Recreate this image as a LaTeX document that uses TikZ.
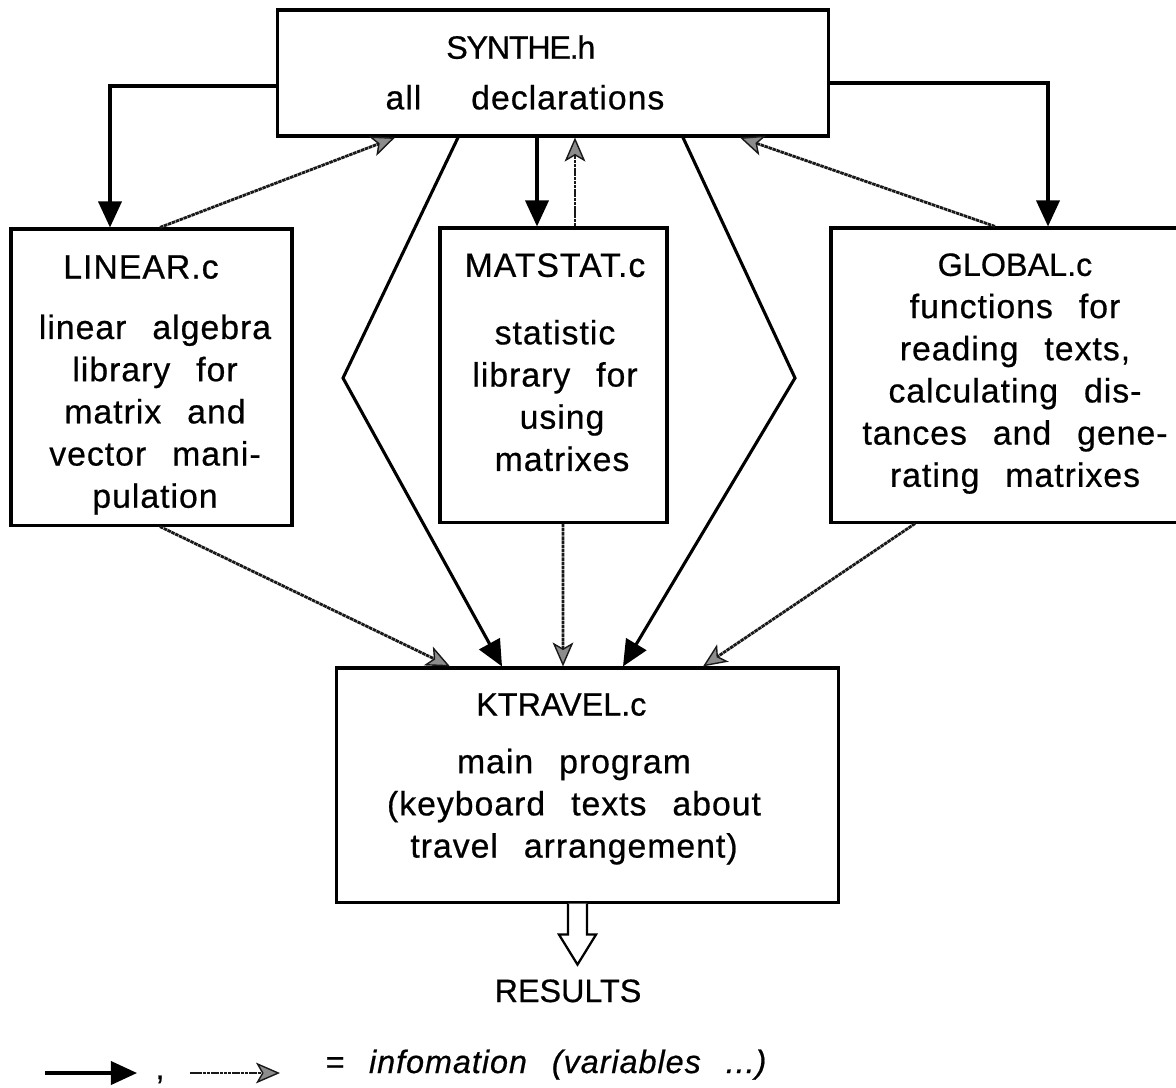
\documentclass[tikz,border=0pt]{standalone}
\usepackage{fontspec}
\setmainfont{Liberation Sans}
\newfontfamily\bodyfont[LetterSpace=3,WordSpace=2.5,FakeBold=0.6]{Liberation Sans}
\newfontfamily\tightfont[LetterSpace=-4,FakeBold=0.6]{Liberation Sans}
\newfontfamily\headfont[FakeBold=0.6]{Liberation Sans}
\usetikzlibrary{arrows.meta,calc}

\newcommand\modtitle[1]{{\headfont\fontsize{23}{30}\selectfont #1}}

\tikzset{
  modbox/.style={draw, line width=2.2pt, inner sep=0pt},
  modtext/.style={align=center, inner sep=0pt, anchor=north,
    font=\bodyfont\fontsize{24}{30}\selectfont},
  solidarr/.style={line width=2.2pt, -{Triangle[length=6.5mm,width=5.8mm]}},
  grayarr/.style={line width=2pt, black!90, dash pattern=on 2.5pt off 0.5pt,
    -{Stealth[length=6mm,width=5.2mm,inset=1.5mm,fill=black!45,line width=1pt]}},
  hollowarr/.style={line width=1.6pt, fill=white, line join=miter},
}

\begin{document}
\begin{tikzpicture}[x=0.025cm,y=-0.025cm]
  \path[use as bounding box] (0,0) rectangle (1176,1087);
  \clip (0,0) rectangle (1176,1087);

  % modules
  \node[modbox, minimum width=13.75cm, minimum height=3.15cm] (synthe) at (553,73) {};
  \node[modbox, minimum width=7.025cm, minimum height=7.4cm] (linear) at (151.5,377) {};
  \node[modbox, minimum width=5.675cm, minimum height=7.35cm] (matstat) at (553.5,375) {};
  \node[modbox, minimum width=9.225cm, minimum height=7.35cm] (global) at (1015.5,375) {};
  \node[modbox, minimum width=12.525cm, minimum height=5.85cm] (ktravel) at (587.5,785) {};

  \node[modtext] (synthetxt) at (525,35)
    {{\tightfont\fontsize{23}{30}\selectfont SYNTHE.h}\hspace*{6pt}\\[6pt] all\hspace{17pt} declarations};
  \node[modtext] (lineartxt) at (155,255)
    {LINEAR.c\hspace*{20pt}\\[13pt] linear algebra\\ library for\\ matrix and\\ vector mani-\\ pulation};
  \node[modtext] (matstattxt) at (555,253)
    {MATSTAT.c\\[18pt] statistic\hspace*{13pt}\\ library for\\ \hspace*{10pt}using\\ \hspace*{10pt}matrixes};
  \node[modtext] (globaltxt) at (1015,253)
    {\modtitle{GLOBAL.c}\\ functions for\\ reading texts,\\ calculating dis-\\ tances and gene-\\ rating matrixes};
  \node[modtext] (ktraveltxt) at (574,693)
    {\modtitle{KTRAVEL.c}\hspace*{18pt}\\[11pt] main program\\ (keyboard texts about\\ travel arrangement)};

  % SYNTHE.h -> modules
  \draw[solidarr] ($(synthe.west)+(0,13)$) -| ($(linear.north)+(-41.5,0)$);
  \draw[solidarr] ($(synthe.east)+(0,10)$) -| ($(global.north)+(32.5,0)$);
  \coordinate (m1) at ($(matstat.north)+(-16.5,0)$);
  \draw[solidarr] (synthe.south -| m1) -- (m1);
  \coordinate (m2) at ($(matstat.north)+(21.5,0)$);
  \draw[grayarr] (m2) -- (synthe.south -| m2);
  \draw[grayarr] ($(linear.north)+(8.5,0)$) -- ($(synthe.south)+(-158,0)$);
  \draw[grayarr] ($(global.north)+(-20.5,0)$) -- ($(synthe.south)+(187,0)$);

  % SYNTHE.h -> KTRAVEL.c
  \coordinate (bendl) at (343,378);
  \coordinate (bendr) at (795,378);
  \draw[solidarr] ($(synthe.south)+(-95,0)$) -- (bendl) -- ($(ktravel.north)+(-85.5,0)$);
  \draw[solidarr] ($(synthe.south)+(130,0)$) -- (bendr) -- ($(ktravel.north)+(35.5,0)$);

  % modules -> KTRAVEL.c
  \draw[grayarr] ($(linear.south)+(8.5,0)$) -- ($(ktravel.north)+(-137.5,0)$);
  \draw[grayarr] ($(matstat.south)+(9.5,0)$) -- ($(ktravel.north)+(-24.5,0)$);
  \draw[grayarr] ($(global.south)+(-100.5,0)$) -- ($(ktravel.north)+(115.5,0)$);

  % results
  \coordinate (out) at ($(ktravel.south)+(-10,0)$);
  \draw[hollowarr] ($(out)+(-9.5,0)$) -- ++(0,31) -- ++(-9,0) -- ($(out)+(0,61)$)
    -- ($(out)+(18.5,31)$) -- ++(-9,0) -- ($(out)+(9.5,0)$);
  \node[anchor=base, inner sep=0pt] (results) at (568,1002) {\modtitle{RESULTS}};

  % legend
  \coordinate (la) at (45,1073);
  \coordinate (lb) at (137,1073);
  \coordinate (lc) at (190,1073);
  \coordinate (ld) at (280,1073);
  \draw[solidarr] (la) -- (lb);
  \node[anchor=base, inner sep=0pt, font=\headfont\fontsize{23}{28}\selectfont] (comma) at (160,1079) {,};
  \draw[grayarr] (lc) -- (ld);
  \node[anchor=base west, inner sep=0pt, font=\bodyfont\itshape\fontsize{23}{28}\selectfont]
    (legend) at (325,1073) {= infomation (variables ...)};
\end{tikzpicture}
\end{document}
